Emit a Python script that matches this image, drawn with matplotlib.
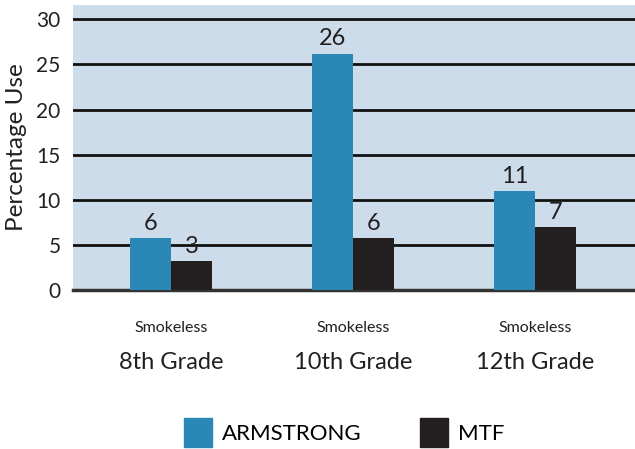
import matplotlib.pyplot as plt
import matplotlib.patches as mpatches
import matplotlib.transforms as mtransforms
import numpy as np

# ── Daten ──────────────────────────────────────────────────────────────────────
GRADES = ['8th Grade', '10th Grade', '12th Grade']
PRODUCT = 'Smokeless'
ARMSTRONG = [5.8, 26.2, 11.0]
MTF = [3.2, 5.8, 7.0]
ARMSTRONG_LABELS = ['6', '26', '11']
MTF_LABELS = ['3', '6', '7']
YTICKS = [0, 5, 10, 15, 20, 25, 30]

BLUE = '#2b87b5'
DARK = '#231f20'
BG = '#cddcea'

plt.rcParams['font.family'] = ['Lato', 'DejaVu Sans']

fig = plt.figure(figsize=(6.35, 4.49), dpi=100, facecolor='white')
ax = fig.add_axes([0.115, 0.354, 0.885, 0.635])
ax.set_facecolor(BG)

x = np.arange(len(GRADES))
w = 0.225
b1 = ax.bar(x - w / 2, ARMSTRONG, w, color=BLUE, zorder=3)
b2 = ax.bar(x + w / 2, MTF, w, color=DARK, zorder=3)

# Werte über den Balken
for bars, labels in ((b1, ARMSTRONG_LABELS), (b2, MTF_LABELS)):
    for bar, lbl in zip(bars, labels):
        ax.annotate(lbl, (bar.get_x() + bar.get_width() / 2, bar.get_height()),
                    xytext=(0, 3), textcoords='offset points',
                    ha='center', va='bottom', fontsize=17, color=DARK)

ax.set_xlim(-0.54, 2.55)
ax.set_ylim(0, 31.6)
ax.set_yticks(YTICKS)
ax.yaxis.grid(True, color='#111111', linewidth=2.0, zorder=1)
ax.tick_params(axis='y', length=0, pad=9, labelsize=15, labelcolor=DARK)
ax.set_xticks(x)
ax.set_xticklabels([PRODUCT] * len(GRADES), fontsize=11.5, color=DARK)
ax.tick_params(axis='x', length=0, pad=22)
for s in ('top', 'right', 'left'):
    ax.spines[s].set_visible(False)
ax.spines['bottom'].set_color('#333333')
ax.spines['bottom'].set_linewidth(2.5)

# Klassenstufen unter "Smokeless"
trans = mtransforms.blended_transform_factory(ax.transData, ax.transAxes)
for xi, g in zip(x, GRADES):
    ax.text(xi, -0.253, g, transform=trans, ha='center', va='center',
            fontsize=17, color=DARK)

ax.set_ylabel('Percentage Use', fontsize=17.5, color=DARK, labelpad=7)

handles = [mpatches.Patch(color=BLUE, label='ARMSTRONG'),
           mpatches.Patch(color=DARK, label='MTF')]
fig.legend(handles=handles, loc='lower center', bbox_to_anchor=(0.542, -0.03),
           ncol=2, frameon=False, fontsize=16, handlelength=1.26, handleheight=1.6,
           columnspacing=2.6, handletextpad=0.45, borderpad=0.2)

fig.savefig('out.png', dpi=100, facecolor='white')
